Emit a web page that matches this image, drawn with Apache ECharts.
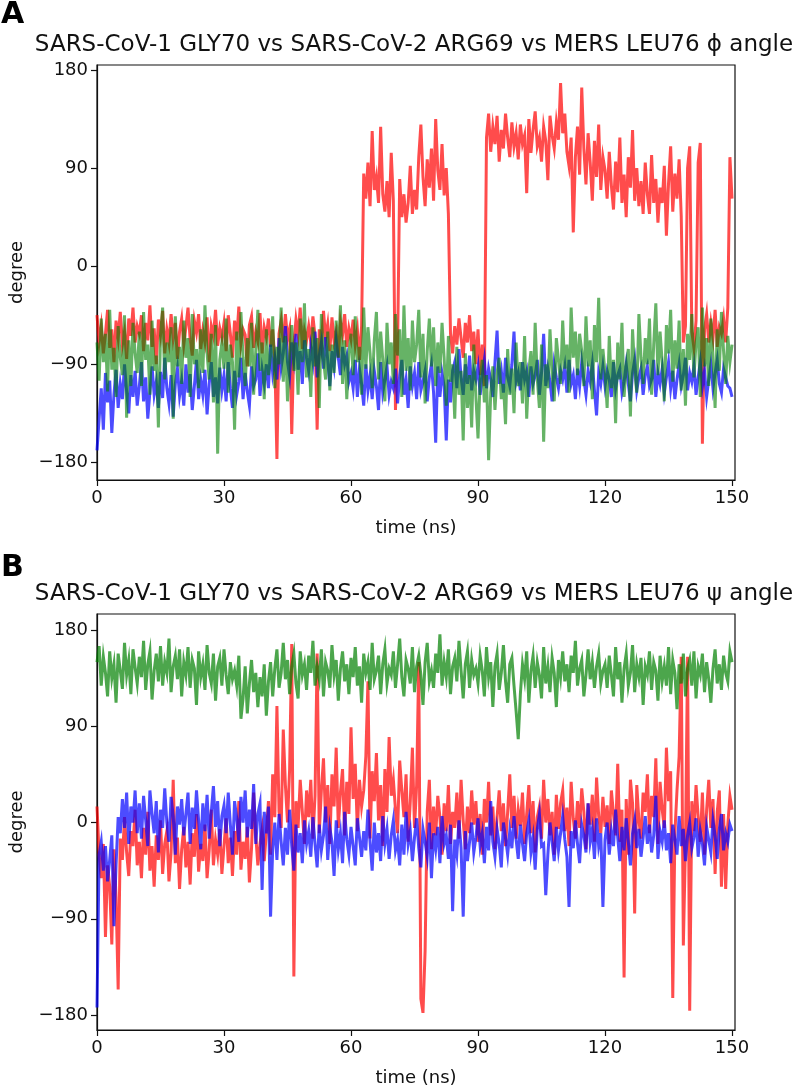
<!DOCTYPE html>
<html>
<head>
<meta charset="utf-8">
<script src="https://cdn.jsdelivr.net/npm/echarts/dist/echarts.min.js"></script>
<style>
html,body{margin:0;padding:0;background:#fff;}
#chart{width:794px;height:1088px;}
</style>
</head>
<body>
<div id="chart"></div>
<script>
// ---- data (degrees), sampled every TIME_STEP_NS nanoseconds ----
const TIME_STEP_NS = 0.5;
const xTicks = [0, 30, 60, 90, 120, 150];
const yTicks = [-180, -90, 0, 90, 180];

// Panel A: phi angle
const sars1Phi = [
-45,-70,-55,-80,-62,-40,-75,-58,-88,-50,-66,-42,-72,-60,-85,-48,-64,-38,-70,-55,
-62,-45,-78,-52,-68,-36,-74,-57,-90,-49,-63,-41,-80,-58,-70,-44,-66,-52,-85,-60,
-48,-72,-56,-38,-67,-82,-50,-61,-44,-76,-59,-70,-47,-88,-55,-64,-40,-73,-57,-66,
-52,-78,-45,-62,-84,-50,-68,-37,-71,-58,-63,-92,-54,-46,-75,-60,-69,-43,-80,-56,
-65,-48,-74,-58,-85,-177,-62,-50,-70,-44,-66,-57,-154,-72,-49,-63,-38,-76,-59,-68,
-55,-70,-46,-64,-150,-58,-72,-41,-66,-53,-78,-47,-69,-60,-84,-51,-63,-44,-74,-57,
-67,-49,-72,-58,-86,-55,85,62,95,55,124,70,82,58,128,66,50,78,45,104,
60,-132,-75,80,45,66,40,58,92,48,70,52,100,130,82,55,98,72,108,60,
135,88,70,112,65,90,48,-62,-80,-55,-72,-48,-66,-84,-52,-70,-45,-78,-60,-90,
-58,-100,-72,-110,118,140,105,128,112,138,96,125,108,140,118,100,132,110,122,98,
130,112,120,67,135,104,125,142,110,118,96,128,115,79,138,120,108,132,116,168,
122,140,105,92,118,31,100,128,84,164,108,75,122,95,60,115,82,130,70,100,
88,62,105,74,52,96,68,118,58,84,45,100,72,125,60,90,55,78,48,95,
66,48,102,58,80,40,72,58,92,28,76,110,50,85,62,98,46,-70,-55,90,
110,-60,-75,-50,95,113,-163,-58,-44,-70,-52,-66,-40,-74,-56,-62,-48,-70,-38,100,
62
];
const sars2Phi = [
-169,-140,-112,-150,-98,-125,-105,-153,-118,-95,-130,-108,-122,-90,-115,-135,-100,-120,-96,-128,
-110,-88,-124,-102,-140,-115,-92,-118,-106,-130,-97,-121,-84,-112,-126,-100,-138,-108,-94,-119,
-105,-128,-90,-116,-99,-132,-110,-86,-122,-104,-118,-95,-136,-108,-88,-120,-102,-126,-93,-114,
-100,-124,-88,-112,-130,-96,-118,-106,-84,-122,-98,-115,-128,-92,-110,-104,-80,-119,-95,-108,
-90,-112,-72,-98,-84,-104,-66,-93,-80,-55,-88,-101,-70,-86,-62,-95,-78,-108,-68,-84,
-96,-74,-88,-60,-102,-82,-70,-94,-65,-86,-110,-78,-92,-68,-84,-100,-74,-90,-82,-106,
-98,-112,-86,-120,-94,-108,-128,-90,-114,-100,-122,-96,-110,-132,-88,-116,-104,-92,-118,-106,
-112,-94,-126,-100,-86,-118,-104,-130,-92,-110,-98,-122,-88,-114,-106,-96,-124,-102,-90,-116,
-162,-92,-120,-98,-110,-160,-104,-125,-96,-88,-112,-76,-102,-118,-90,-108,-82,-114,-96,-104,
-92,-118,-100,-86,-112,-94,-104,-120,-88,-59,-108,-96,-116,-84,-102,-110,-90,-60,-106,-98,
-114,-88,-104,-96,-120,-92,-108,-100,-86,-118,-98,-62,-110,-94,-106,-124,-90,-102,-112,-96,
-104,-92,-116,-86,-108,-100,-122,-94,-110,-88,-104,-118,-96,-106,-90,-114,-137,-98,-108,-92,
-110,-96,-104,-120,-88,-112,-100,-94,-116,-106,-90,-108,-124,-98,-86,-114,-102,-94,-118,-100,
-92,-110,-104,-86,-120,-98,-108,-94,-116,-102,-88,-112,-96,-122,-104,-90,-110,-100,-84,-114,
-98,-106,-92,-118,-102,-88,-110,-96,-120,-104,-90,-112,-98,-86,-108,-116,-94,-102,-110,-112,
-120
];
const mersPhi = [
-70,-105,-48,-88,-62,-115,-40,-95,-75,-120,-55,-84,-100,-45,-139,-68,-110,-52,-80,-98,
-60,-110,-42,-86,-72,-118,-50,-96,-82,-148,-64,-38,-104,-70,-88,-56,-140,-46,-92,-74,
-108,-50,-84,-66,-120,-44,-90,-76,-112,-58,-98,-36,-80,-104,-62,-125,-54,-172,-86,-70,
-94,-48,-116,-72,-88,-150,-60,-102,-42,-84,-110,-66,-92,-52,-118,-78,-40,-96,-70,-122,
-58,-100,-82,-46,-112,-74,-90,-38,-106,-64,-124,-80,-54,-96,-70,-118,-48,-88,-34,-102,
-76,-120,-56,-92,-66,-130,-44,-86,-104,-60,-114,-72,-98,-50,-84,-36,-108,-68,-122,-80,
-62,-100,-46,-88,-74,-118,-38,-94,-56,-80,-112,-68,-42,-104,-60,-86,-124,-52,-90,-70,
-108,-44,-82,-58,-120,-36,-96,-66,-114,-50,-88,-72,-40,-102,-62,-126,-78,-48,-92,-56,
-110,-70,-98,-52,-84,-128,-64,-106,-90,-140,-74,-118,-96,-160,-80,-130,-100,-148,-72,-120,
-158,-104,-86,-125,-100,-178,-116,-92,-132,-98,-84,-122,-108,-145,-76,-118,-94,-135,-70,-110,
-88,-126,-64,-140,-96,-78,-118,-52,-104,-130,-72,-161,-90,-112,-58,-98,-124,-66,-86,-108,
-50,-94,-72,-116,-38,-84,-60,-100,-62,-78,-110,-46,-92,-68,-122,-54,-88,-29,-104,-76,
-98,-130,-64,-112,-86,-144,-70,-104,-52,-120,-92,-76,-138,-58,-96,-116,-44,-84,-108,-66,
-90,-48,-118,-72,-34,-100,-60,-88,-124,-54,-80,-40,-106,-68,-94,-50,-114,-76,-128,-62,
-86,-44,-102,-70,-56,-120,-38,-92,-66,-110,-48,-82,-130,-58,-96,-42,-78,-108,-64,-88,
-72
];

// Panel B: psi angle
const sars1Psi = [
15,-30,-52,-20,-107,-40,-60,-114,-25,-70,-156,-15,-35,5,-28,-50,-8,-22,12,-40,
-18,-52,-5,-30,10,-45,-22,-60,-12,-35,2,-48,-20,-8,-55,-28,40,-38,-14,-62,
-25,-4,-42,-18,-58,-10,-32,8,-46,-20,-36,-2,-52,-26,12,-40,-16,-30,-6,-48,
-22,4,-38,-14,-50,-8,-30,20,-44,-18,-34,-4,-56,-24,28,-12,-40,-20,-6,-36,
-10,20,-30,45,5,109,10,-5,87,35,0,50,167,-144,20,-5,40,10,-20,30,
5,40,-15,25,158,-10,30,60,0,35,-20,45,15,70,-5,28,50,-12,38,8,
89,22,55,-8,40,15,30,62,132,-15,48,20,65,2,35,-22,50,10,80,25,
40,12,-10,58,30,5,45,-18,20,70,-5,35,150,-165,-178,-120,10,40,-25,15,
-12,25,5,-30,18,-8,35,-20,10,-5,28,-15,40,2,-25,15,-10,30,-2,20,
-18,8,-30,22,0,38,-12,15,-25,5,30,-8,18,-22,10,45,-5,25,-15,12,
-3,28,-20,8,35,-10,20,-28,5,15,-15,40,0,22,-12,10,-30,26,-6,18,
30,-8,14,-22,38,4,-15,20,-5,32,10,-25,18,-2,26,-18,42,6,-10,24,
-4,16,-20,30,8,-12,55,-18,12,-145,22,-30,40,18,-85,35,2,-15,28,10,
45,-10,25,5,60,-20,38,12,-5,70,20,48,-164,-10,30,62,155,-115,-20,155,
-176,20,-8,35,5,-18,28,-30,12,40,-5,22,-48,10,30,-60,8,-62,-2,25,
12
];
const sars2Psi = [
-173,-30,-18,-45,-22,-55,-35,-12,-97,-40,5,-10,22,-5,28,-20,15,0,30,-10,
18,-15,25,2,-22,30,8,-10,20,-28,12,-5,32,0,-18,24,6,-30,15,-2,
22,-12,8,28,-20,14,-6,30,2,-25,18,-8,26,-15,10,34,-4,20,-22,6,
16,-10,28,-2,-30,20,4,-18,24,0,30,-14,12,-6,36,-20,8,18,-63,10,
-10,15,-88,-25,0,-35,8,-18,-40,-5,-30,12,-22,-45,-2,-28,-10,-38,2,-20,
-8,-32,5,-20,-42,-2,-26,-12,15,-35,-5,-18,-50,2,-25,-10,-38,10,-16,-30,
-4,-22,-40,4,-14,-32,-8,-26,12,-18,-45,0,-28,-10,-36,6,-20,-6,-34,-12,
2,-26,-16,-40,-2,-30,10,-20,-8,-36,-14,4,-24,-42,-6,-18,-32,0,-52,-10,
-25,-4,-38,6,-20,-12,-34,-2,-83,-16,-30,2,-24,-88,-8,-36,-18,0,-28,-14,
4,-22,-10,-38,-4,-26,20,-18,-32,-6,-20,-42,0,-14,-30,-8,-24,6,-16,-34,
-2,-20,-36,-10,2,-28,-14,-44,-6,8,-22,-20,-68,-30,0,-18,-36,-4,-26,-10,
6,-16,-32,-79,-8,-24,2,-20,-38,-2,-12,-28,18,-18,-6,-34,4,-22,-10,-79,
-16,0,-30,-8,-22,12,-14,-36,-4,-26,4,-18,-40,-10,2,-24,-6,-32,-14,6,
-20,-2,-28,-12,25,-34,-8,-18,2,-26,-10,-38,-2,-16,-30,6,-22,-6,-36,-12,
0,-24,-14,4,-32,-8,-20,-40,-4,-16,-28,2,-12,-34,-6,8,-26,-10,-18,-2,
-8
];
const mersPsi = [
150,165,128,155,140,118,160,135,148,112,158,142,125,168,138,152,120,162,145,130,
155,136,170,124,148,160,115,142,158,132,165,128,150,140,172,122,146,156,134,162,
118,150,138,164,126,152,144,110,160,136,148,124,166,140,130,158,114,146,154,128,
162,138,120,150,134,142,128,156,97,116,146,102,130,152,122,140,108,136,118,148,
100,132,150,118,144,162,126,140,168,134,152,120,146,158,130,116,160,138,148,124,
156,140,170,128,146,134,162,118,150,142,126,166,138,152,114,144,160,132,148,120,
154,136,164,128,146,112,158,140,150,124,168,134,142,156,120,148,162,130,144,138,
160,126,148,172,136,118,152,144,130,164,122,146,156,138,110,150,168,132,142,126,
158,140,176,128,150,136,162,120,146,154,132,170,142,116,148,160,126,152,138,144,
130,156,142,118,164,136,150,108,146,158,124,140,166,132,112,148,154,128,104,78,
120,148,134,160,112,142,156,126,150,138,116,164,130,146,122,154,140,108,152,136,
160,132,148,122,156,140,170,128,144,152,118,138,162,134,150,126,146,158,130,142,
148,126,156,138,118,164,134,150,112,144,158,128,140,166,122,148,136,154,110,146,
138,160,124,150,142,114,156,132,146,128,164,120,152,140,106,148,130,158,118,144,
152,128,160,116,146,138,158,122,150,134,112,144,162,130,148,124,156,140,132,160,
150
];

const titleA = 'SARS-CoV-1 GLY70 vs SARS-CoV-2 ARG69 vs MERS LEU76 \u03D5 angle';
const titleB = 'SARS-CoV-1 GLY70 vs SARS-CoV-2 ARG69 vs MERS LEU76 \u03C8 angle';

// ---- chart ----
const FONT = '"DejaVu Sans", sans-serif';
const INK = '#111';
function pairs(values) { return values.map((v, i) => [i * TIME_STEP_NS, v]); }
function minusFmt(v) { return String(v).replace('-', '\u2212'); }

function xAxisFor(gridIndex) {
  return {
    gridIndex, type: 'value', min: 0, max: 150.7,
    name: 'time (ns)', nameLocation: 'middle', nameGap: 39,
    nameTextStyle: { fontFamily: FONT, fontSize: 18, color: INK },
    axisLine: { onZero: false, lineStyle: { color: INK, width: 1.2 } },
    axisTick: { customValues: xTicks, length: 6, lineStyle: { color: INK, width: 1.2 } },
    axisLabel: { customValues: xTicks, margin: 9, fontFamily: FONT, fontSize: 18, color: INK },
    splitLine: { show: false }
  };
}
function yAxisFor(gridIndex, min, max) {
  return {
    gridIndex, type: 'value', min, max,
    name: 'degree', nameLocation: 'middle', nameGap: 71,
    nameTextStyle: { fontFamily: FONT, fontSize: 18, color: INK },
    axisLine: { onZero: false, lineStyle: { color: INK, width: 1.2 } },
    axisTick: { customValues: yTicks, length: 6, lineStyle: { color: INK, width: 1.2 } },
    axisLabel: { customValues: yTicks, margin: 9, fontFamily: FONT, fontSize: 18, color: INK, formatter: minusFmt },
    splitLine: { show: false }
  };
}
function lineSeries(idx, values, color) {
  return {
    type: 'line', xAxisIndex: idx, yAxisIndex: idx, data: pairs(values),
    showSymbol: false, symbol: 'none', silent: true, animation: false,
    lineStyle: { color, width: 3, join: 'miter' }, emphasis: { disabled: true }
  };
}

const RED = 'rgba(255,0,0,0.7)';
const BLUE = 'rgba(0,0,255,0.7)';
const GREEN_A = 'rgba(0,128,0,0.6)';
const GREEN_B = 'rgba(0,128,0,0.7)';

const chart = echarts.init(document.getElementById('chart'), null, { renderer: 'canvas' });
chart.setOption({
  animation: false,
  backgroundColor: '#fff',
  grid: [
    { left: 96, top: 65, width: 639, height: 415, show: true, borderColor: INK, borderWidth: 1.2, backgroundColor: 'transparent' },
    { left: 96, top: 614, width: 639, height: 416, show: true, borderColor: INK, borderWidth: 1.2, backgroundColor: 'transparent' }
  ],
  xAxis: [xAxisFor(0), xAxisFor(1)],
  yAxis: [yAxisFor(0, -196.2, 184.6), yAxisFor(1, -194, 195)],
  series: [
    lineSeries(0, sars1Phi, RED),
    lineSeries(0, sars2Phi, BLUE),
    lineSeries(0, mersPhi, GREEN_A),
    lineSeries(1, sars1Psi, RED),
    lineSeries(1, sars2Psi, BLUE),
    lineSeries(1, mersPsi, GREEN_B)
  ],
  graphic: [
    { type: 'text', x: 1, y: 15, style: { text: 'A', font: 'bold 30px ' + FONT, fill: '#000', align: 'left', verticalAlign: 'middle' } },
    { type: 'text', x: 414, y: 45, style: { text: titleA, font: '23px ' + FONT, fill: INK, align: 'center', verticalAlign: 'middle' } },
    { type: 'text', x: 1, y: 568, style: { text: 'B', font: 'bold 30px ' + FONT, fill: '#000', align: 'left', verticalAlign: 'middle' } },
    { type: 'text', x: 414, y: 594, style: { text: titleB, font: '23px ' + FONT, fill: INK, align: 'center', verticalAlign: 'middle' } }
  ]
});
</script>
</body>
</html>
